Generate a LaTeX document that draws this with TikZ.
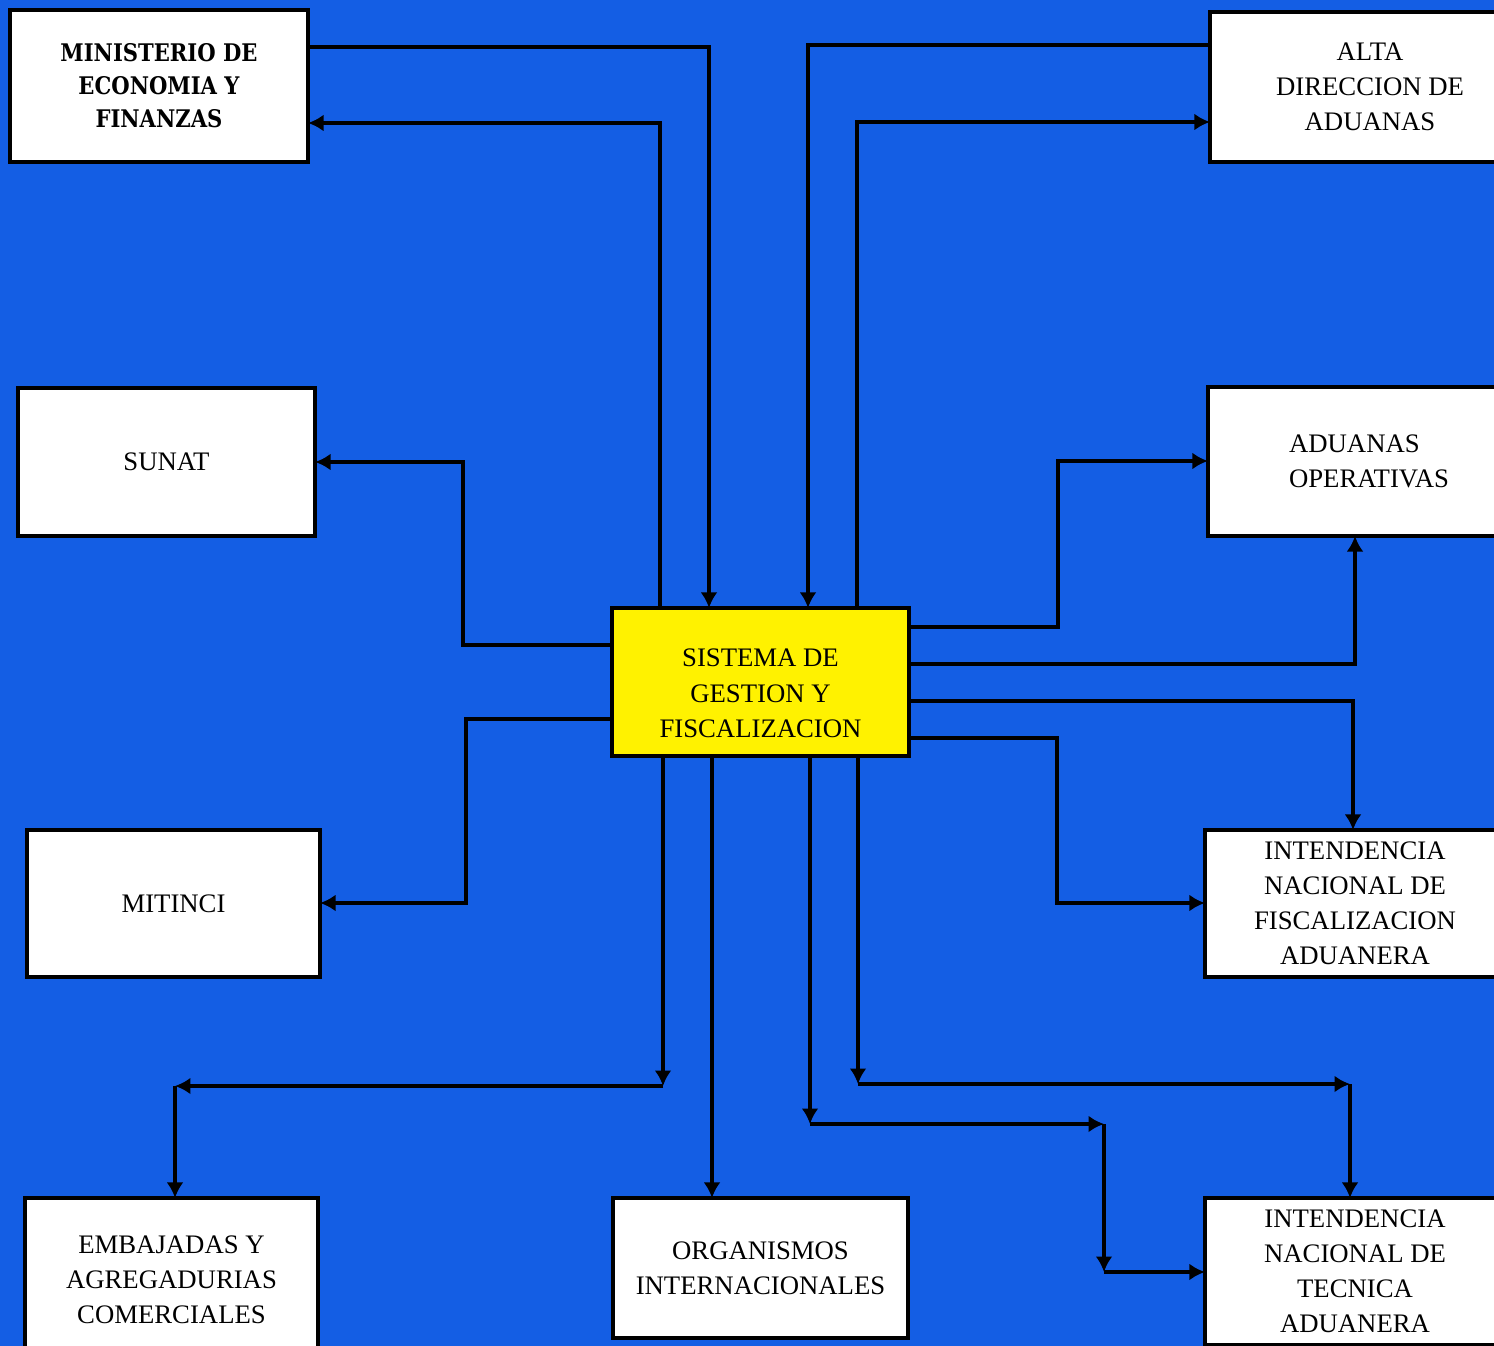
\documentclass[tikz,border=0pt]{standalone}
\usepackage{fontspec}
\setmainfont{Liberation Serif}
\newfontfamily\slabfont[FakeStretch=0.87]{DejaVu Serif}
\usepackage{tikz}
\usetikzlibrary{shapes,arrows.meta}
\usetikzlibrary{calc}
\definecolor{fondo}{RGB}{20,94,228}
\definecolor{amarillo}{RGB}{255,242,0}
\tikzset{
  caja/.style={draw=black, fill=white, line width=1.1pt, inner sep=0pt, outer sep=0pt, align=center,
    font=\fontsize{7.6}{10}\selectfont},
  linea/.style={draw=black, line width=1.1pt},
  flecha/.style={linea, -{Latex[length=4.4pt,width=4.8pt]}}
}

\begin{document}
\begin{tikzpicture}[x=0.01cm,y=-0.01cm]
    \useasboundingbox (0,0) rectangle (1494,1346);
    \fill [fondo] (0,0) rectangle (1494,1346);

    \node [caja, fill=amarillo, minimum width=2.97cm, minimum height=1.48cm] (sis) at (760.5,682) {\rule{0pt}{11.5pt}SISTEMA DE\\GESTION Y\\FISCALIZACION};
    \node [caja, minimum width=2.98cm, minimum height=1.52cm, font=\slabfont\bfseries\fontsize{6.9}{9.4}\selectfont] (mef) at (159,86) {MINISTERIO DE\\ECONOMIA Y\\FINANZAS};
    \node [caja, minimum width=2.97cm, minimum height=1.48cm] (sunat) at (166.5,462) {SUNAT};
    \node [caja, minimum width=2.93cm, minimum height=1.47cm] (mitinci) at (173.5,903.5) {MITINCI};
    \node [caja, minimum width=2.93cm, minimum height=1.64cm] (emb) at (171.5,1280) {EMBAJADAS Y\\AGREGADURIAS\\COMERCIALES};
    \node [caja, minimum width=2.95cm, minimum height=1.40cm] (org) at (760.5,1268) {ORGANISMOS\\INTERNACIONALES};
    \node [caja, minimum width=3.20cm, minimum height=1.50cm] (alta) at (1370,87) {ALTA\\DIRECCION DE\\ADUANAS};
    \node [caja, minimum width=3.22cm, minimum height=1.49cm, align=left] (ope) at (1369,461.5) {ADUANAS\\OPERATIVAS};
    \node [caja, minimum width=3.00cm, minimum height=1.47cm] (infa) at (1355,903.5) {INTENDENCIA\\NACIONAL DE\\FISCALIZACION\\ADUANERA};
    \node [caja, minimum width=3.00cm, minimum height=1.47cm] (inta) at (1355,1271.5) {INTENDENCIA\\NACIONAL DE\\TECNICA\\ADUANERA};

    % arriba
    \coordinate (a1) at (709,47);
    \coordinate (a2) at (660,123);
    \coordinate (a3) at (808,45);
    \coordinate (a4) at (857,122);
    \draw [flecha] (mef.east |- a1) -| (a1 |- sis.north);
    \draw [flecha] (a2 |- sis.north) |- (mef.east |- a2);
    \draw [flecha] (alta.west |- a3) -| (a3 |- sis.north);
    \draw [flecha] (a4 |- sis.north) |- (alta.west |- a4);

    % izquierda
    \coordinate (b1) at (463,645);
    \coordinate (b2) at (463,462);
    \coordinate (b3) at (466,719);
    \coordinate (b4) at (466,903);
    \draw [flecha] (sis.west |- b1) -- (b1) -- (b2) -- (sunat.east |- b2);
    \draw [flecha] (sis.west |- b3) -- (b3) -- (b4) -- (mitinci.east |- b4);

    % derecha
    \coordinate (c1) at (1058,627);
    \coordinate (c2) at (1058,461);
    \coordinate (c3) at (1355,664);
    \coordinate (c4) at (1353,701);
    \coordinate (c5) at (1057,738);
    \coordinate (c6) at (1057,903);
    \draw [flecha] (sis.east |- c1) -- (c1) -- (c2) -- (ope.west |- c2);
    \draw [flecha] (sis.east |- c3) -| (c3 |- ope.south);
    \draw [flecha] (sis.east |- c4) -| (c4 |- infa.north);
    \draw [flecha] (sis.east |- c5) -- (c5) -- (c6) -- (infa.west |- c6);

    % abajo
    \coordinate (d1) at (663,1086);
    \coordinate (d2) at (175,1086);
    \coordinate (d3) at (712,1000);
    \coordinate (d4) at (810,1124);
    \coordinate (d5) at (1104,1124);
    \coordinate (d6) at (1104,1272);
    \coordinate (d7) at (858,1084);
    \coordinate (d8) at (1350,1084);
    \draw [flecha] (d1 |- sis.south) -- (d1);
    \draw [flecha] (d1) -- (d2);
    \draw [flecha] (d2) -- (d2 |- emb.north);
    \draw [flecha] (d3 |- sis.south) -- (d3 |- org.north);
    \draw [flecha] (d4 |- sis.south) -- (d4);
    \draw [flecha] (d4) -- (d5);
    \draw [flecha] (d5) -- (d6);
    \draw [flecha] (d6) -- (inta.west |- d6);
    \draw [flecha] (d7 |- sis.south) -- (d7);
    \draw [flecha] (d7) -- (d8);
    \draw [flecha] (d8) -- (d8 |- inta.north);
  \end{tikzpicture}
\end{document}
